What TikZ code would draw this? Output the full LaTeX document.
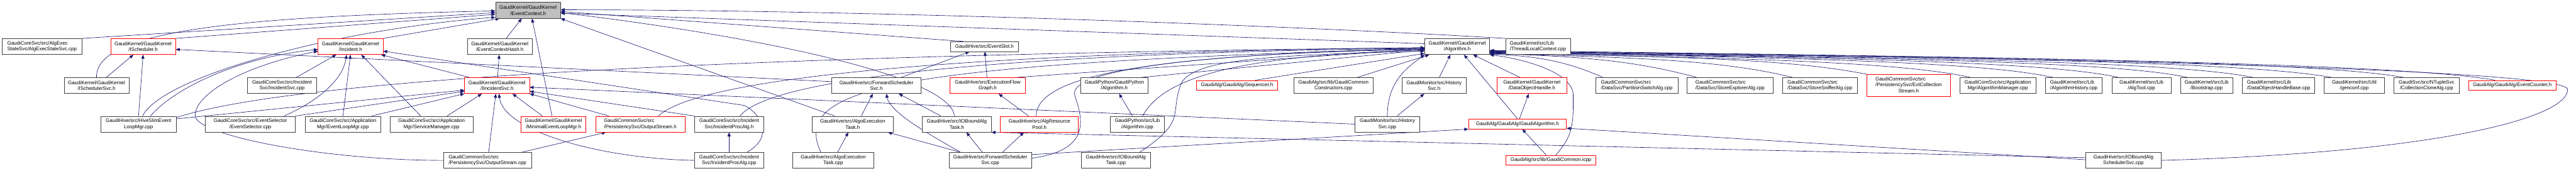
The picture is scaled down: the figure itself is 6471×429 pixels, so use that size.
\documentclass[tikz,border=0pt]{standalone}
\usepackage{fontspec}
\setmainfont{Liberation Sans}
\usetikzlibrary{arrows.meta,calc,backgrounds}
\definecolor{edgecol}{HTML}{191970}
\definecolor{nodeb}{HTML}{404040}
\definecolor{rootf}{HTML}{BFBFBF}
\newcommand{\gfs}{\fontsize{12.6}{15}\selectfont}
\begin{document}
\begin{tikzpicture}[x=1pt,y=-1pt,
 nb/.style={draw=nodeb, fill=white, line width=1pt, minimum height=40pt, inner sep=0pt, align=center, font=\gfs},
 nl/.style={nb, align=left},
 nr/.style={nb, draw=red},
 nrl/.style={nr, align=left},
 one/.style={minimum height=25pt},
 root/.style={nb, fill=rootf},
 dep/.style={edgecol, line width=1pt, -{Triangle[length=10pt,width=8pt]}},
]
\useasboundingbox (0,0) rectangle (6471,429);
% nodes
\node[nl, minimum width=201pt] (AES) at (105.5,117) {GaudiCoreSvc/src/AlgExec\\StateSvc/AlgExecStateSvc.cpp};
\node[nr, minimum width=163pt] (ISch) at (359.5,117) {GaudiKernel/GaudiKernel\\/IScheduler.h};
\node[nb, minimum width=163pt] (ISS) at (242.5,215) {GaudiKernel/GaudiKernel\\/ISchedulerSvc.h};
\node[nb, minimum width=190pt] (HSE) at (348,312) {GaudiHive/src/HiveSlimEvent\\LoopMgr.cpp};
\node[nr, minimum width=163pt] (Inc) at (880.5,117) {GaudiKernel/GaudiKernel\\/Incident.h};
\node[nb, minimum width=173pt] (ISC) at (708.5,215) {GaudiCoreSvc/src/Incident\\Svc/IncidentSvc.cpp};
\node[nb, minimum width=226pt] (ESel) at (629,312) {GaudiCoreSvc/src/EventSelector\\/EventSelector.cpp};
\node[nb, minimum width=191pt] (ELM) at (861.5,312) {GaudiCoreSvc/src/Application\\Mgr/EventLoopMgr.cpp};
\node[nb, minimum width=208pt] (SM) at (1084,312) {GaudiCoreSvc/src/Application\\Mgr/ServiceManager.cpp};
\node[root, minimum width=163pt] (EC) at (1326.5,26) {GaudiKernel/GaudiKernel\\/EventContext.h};
\node[nb, minimum width=163pt] (ECH) at (1255.5,117) {GaudiKernel/GaudiKernel\\/EventContextHash.h};
\node[nr, minimum width=163pt] (IIS) at (1248.5,215) {GaudiKernel/GaudiKernel\\/IIncidentSvc.h};
\node[nr, minimum width=163pt] (MEL) at (1390.5,312) {GaudiKernel/GaudiKernel\\/MinimalEventLoopMgr.h};
\node[nrl, minimum width=225pt] (OSh) at (1608.5,312) {GaudiCommonSvc/src\\/PersistencySvc/OutputStream.h};
\node[nl, minimum width=221pt] (OSc) at (1224.5,403) {GaudiCommonSvc/src\\/PersistencySvc/OutputStream.cpp};
\node[nb, minimum width=173pt] (IPAh) at (1831.5,312) {GaudiCoreSvc/src/Incident\\Svc/IncidentProcAlg.h};
\node[nb, minimum width=173pt] (IPAc) at (1831.5,403) {GaudiCoreSvc/src/Incident\\Svc/IncidentProcAlg.cpp};
\node[nb, minimum width=225pt] (FSH) at (2201.5,215) {GaudiHive/src/ForwardScheduler\\Svc.h};
\node[nb, minimum width=204pt] (AETh) at (2142,312) {GaudiHive/src/AlgoExecution\\Task.h};
\node[nb, minimum width=204pt] (AETc) at (2093,403) {GaudiHive/src/AlgoExecution\\Task.cpp};
\node[nb, one, minimum width=172pt] (ES) at (2473,117) {GaudiHive/src/EventSlot.h};
\node[nr, minimum width=189pt] (EFG) at (2481,215) {GaudiHive/src/ExecutionFlow\\Graph.h};
\node[nb, minimum width=173pt] (IOTh) at (2403.5,312) {GaudiHive/src/IOBoundAlg\\Task.h};
\node[nr, minimum width=196pt] (ARP) at (2611,312) {GaudiHive/src/AlgResource\\Pool.h};
\node[nb, minimum width=207pt] (FSc) at (2487.5,403) {GaudiHive/src/ForwardScheduler\\Svc.cpp};
\node[nb, minimum width=170pt] (GPAh) at (2799,215) {GaudiPython/GaudiPython\\/Algorithm.h};
\node[nr, one, minimum width=203pt] (Seq) at (3107.5,214.5) {GaudiAlg/GaudiAlg/Sequencer.h};
\node[nb, minimum width=136pt] (GPAc) at (2857,312) {GaudiPython/src/Lib\\/Algorithm.cpp};
\node[nb, minimum width=174pt] (IOTc) at (2803,403) {GaudiHive/src/IOBoundAlg\\Task.cpp};
\node[nb, minimum width=163pt] (Alg) at (3660.5,117) {GaudiKernel/GaudiKernel\\/Algorithm.h};
\node[nb, minimum width=199pt] (GCC) at (3349.5,215) {GaudiAlg/src/lib/GaudiCommon\\Constructors.cpp};
\node[nb, minimum width=161pt] (HSh) at (3602.5,215) {GaudiMonitor/src/History\\Svc.h};
\node[nb, minimum width=162pt] (HSc) at (3485,312) {GaudiMonitor/src/History\\Svc.cpp};
\node[nr, one, minimum width=246pt] (GAh) at (3812,311.5) {GaudiAlg/GaudiAlg/GaudiAlgorithm.h};
\node[nr, minimum width=176pt] (DOH) at (3848,215) {GaudiKernel/GaudiKernel\\/DataObjectHandle.h};
\node[nl, minimum width=163pt] (TLC) at (3863.5,117) {GaudiKernel/src/Lib\\/ThreadLocalContext.cpp};
\node[nr, one, minimum width=226pt] (GCi) at (3896,402.5) {GaudiAlg/src/lib/GaudiCommon.icpp};
\node[nl, minimum width=207pt] (PSA) at (4111.5,215) {GaudiCommonSvc/src\\/DataSvc/PartitionSwitchAlg.cpp};
\node[nl, minimum width=216pt] (SEA) at (4346,215) {GaudiCommonSvc/src\\/DataSvc/StoreExplorerAlg.cpp};
\node[nl, minimum width=189pt] (SSA) at (4571.5,215) {GaudiCommonSvc/src\\/DataSvc/StoreSnifferAlg.cpp};
\node[nr, minimum width=211pt, minimum height=55pt] (ECS) at (4794.5,214.5) {\begin{tabular}{@{}l@{}}GaudiCommonSvc/src\\/PersistencySvc/EvtCollection\\\multicolumn{1}{@{}c@{}}{Stream.h}\end{tabular}};
\node[nb, minimum width=191pt] (AM) at (5018.5,215) {GaudiCoreSvc/src/Application\\Mgr/AlgorithmManager.cpp};
\node[nl, minimum width=143pt] (AH) at (5209.5,215) {GaudiKernel/src/Lib\\/AlgorithmHistory.cpp};
\node[nb, minimum width=149pt] (AT) at (5379.5,215) {GaudiKernel/src/Lib\\/AlgTool.cpp};
\node[nb, minimum width=190pt] (IOSS) at (5334,403) {GaudiHive/src/IOBoundAlg\\SchedulerSvc.cpp};
\node[nb, minimum width=132pt] (BS) at (5543,215) {GaudiKernel/src/Lib\\/Bootstrap.cpp};
\node[nl, minimum width=182pt] (DOHB) at (5724,215) {GaudiKernel/src/Lib\\/DataObjectHandleBase.cpp};
\node[nb, minimum width=152pt] (GC) at (5914,215) {GaudiKernel/src/Util\\/genconf.cpp};
\node[nb, minimum width=165pt] (CCA) at (6095.5,215) {GaudiSvc/src/NTupleSvc\\/CollectionCloneAlg.cpp};
\node[nr, one, minimum width=220pt] (ECnt) at (6311,214.5) {GaudiAlg/GaudiAlg/EventCounter.h};
% edges
\begin{scope}[on background layer]
\fill[white] (0,0) rectangle (6471,429);
% EventContext
\draw[dep] (AES.north east) -- (EC.184);
\draw[dep] (ISch.north east) -- (EC.187);
\draw[dep] (ISS.north) .. controls +(-3,-110) and +(-700,15) .. (EC.181);
\draw[dep] ($(HSE.north)+(10,0)$) .. controls +(50,-100) and +(-400,30) .. (EC.192);
\draw[dep] (Inc.north east) -- (EC.196);
\draw[dep] (ECH) -- (EC);
\draw[dep] ($(MEL.north)+(-4,0)$) -- ($(EC.south)+(10,0)$);
\draw[dep] ($(AETh.north)+(-45,0)$) -- (EC.south east);
\draw[dep] ($(ES.north west)+(33,0)$) -- (EC.358);
\draw[dep] ($(IOTh.north)+(-6,0)$) .. controls +(-10,-100) and +(500,60) .. (EC.356);
\draw[dep] (Alg.175) -- (EC.355);
\draw[dep] (TLC.north west) .. controls +(-500,-30) and +(800,0) .. (EC.1);
% IScheduler
\draw[dep] (ISS) -- (ISch);
\draw[dep] (HSE.north) -- (ISch.south);
\draw[dep] (FSH.175) -- (ISch.355);
% Incident
\draw[dep] (ISC) -- (Inc);
\draw[dep] ($(ESel.north east)+(-29,0)$) .. controls +(70,-30) and +(-10,70) .. ($(Inc.south)+(-10,0)$);
\draw[dep] (ELM.north) -- (Inc.south);
\draw[dep] ($(SM.north)+(-27,0)$) -- ($(Inc.south)+(27,0)$);
\draw[dep] ($(IIS.north west)+(13,0)$) -- ($(Inc.south east)+(-5,0)$);
\draw[dep] ($(IPAc.north)+(45,0)$) .. controls +(70,-40) and +(40,20) .. (1870,265) -- (Inc.352);
\draw[dep] ($(HSE.north)+(30,0)$) .. controls +(60,-70) and +(-200,20) .. (Inc.185);
\draw[dep] (OSc.west) .. controls +(-300,0) and +(0,50) .. (490,290) .. controls +(0,-50) and +(-200,40) .. (Inc.188);
% IIncidentSvc
\draw[dep] (HSE.8) -- (IIS.188);
\draw[dep] (ESel.north east) -- (IIS.190);
\draw[dep] ($(ELM.north east)+(-24,0)$) -- (IIS.south west);
\draw[dep] ($(SM.north)+(39,0)$) -- ($(IIS.south)+(-38,0)$);
\draw[dep] ($(OSc.north)+(3,0)$) -- ($(IIS.south)+(-3,0)$);
\draw[dep] (IPAc.west) .. controls +(-250,-5) and +(10,90) .. ($(IIS.south)+(5,0)$);
\draw[dep] ($(MEL.north)+(-28,0)$) -- ($(IIS.south)+(39,0)$);
\draw[dep] ($(OSh.north west)+(34,0)$) -- (IIS.south east);
\draw[dep] (HSc.west) -- (IIS.357);
\draw[dep] (IPAh.north west) -- (IIS.350);
\draw[dep] (IIS) -- (ECH);
% misc
\draw[dep] (OSc) -- (OSh);
\draw[dep] (IPAc) -- (IPAh);
\draw[dep] (AETc) -- (AETh);
\draw[dep] ($(FSc.north west)+(29,0)$) -- ($(AETh.south east)+(-14,0)$);
\draw[dep] ($(AETh.north east)+(-81,0)$) -- ($(FSH.south west)+(104,0)$);
\draw[dep] ($(FSc.north west)+(29,0)$) .. controls +(-60,-35) and +(10,50) .. ($(FSH.south)+(25,0)$);
\draw[dep] ($(IOTh.north)+(-40,0)$) -- ($(FSH.south east)+(-57,0)$);
\draw[dep] ($(FSH.north east)+(-51,0)$) -- ($(ES.south west)+(49,0)$);
\draw[dep] (EFG) -- (ES);
\draw[dep] (ARP) -- (EFG);
\draw[dep] ($(FSc.north)+(-20,0)$) -- ($(IOTh.south)+(24,0)$);
\draw[dep] (IOSS.176) -- (IOTh.south east);
\draw[dep] ($(FSc.north)+(31,0)$) -- ($(ARP.south)+(-39,0)$);
\draw[dep] (GPAc) -- (GPAh);
\draw[dep] (HSc) -- (HSh);
\draw[dep] (GAh) -- (DOH);
\draw[dep] (GCi) -- (GAh);
\draw[dep] (IOSS.179) -- (GAh.355);
\draw[dep] (FSc.8) -- (GAh.186);
% Algorithm (left)
\draw[dep] (HSE.10) .. controls +(400,-130) and +(-1000,10) .. (Alg.182);
\draw[dep] ($(OSh.north)+(45,0)$) .. controls +(120,-110) and +(-1000,10) .. (Alg.182);
\draw[dep] ($(IPAh.north)+(27,0)$) .. controls +(90,-110) and +(-900,10) .. (Alg.183);
\draw[dep] ($(AETc.north)+(-31,0)$) .. controls +(-80,-170) and +(-1300,40) .. (Alg.183);
\draw[dep] ($(EFG.north east)+(-23,0)$) -- (Alg.184);
\draw[dep] ($(ARP.north)+(-8,0)$) .. controls +(0,-100) and +(-700,15) .. (Alg.184);
\draw[dep] (FSc.3) .. controls +(150,-20) and +(20,60) .. (2700,240) .. controls +(-20,-60) and +(-600,10) .. (Alg.185);
\draw[dep] ($(GPAh.north east)+(-17,0)$) -- (Alg.186);
\draw[dep] ($(GPAc.north)+(13,0)$) .. controls +(50,-90) and +(-500,15) .. (Alg.186);
\draw[dep] ($(IOTc.north)+(60,0)$) .. controls +(120,-80) and +(-30,80) .. (2967,210) .. controls +(30,-60) and +(-400,10) .. (Alg.188);
\draw[dep] ($(Seq.north east)+(-56,0)$) -- (Alg.192);
\draw[dep] ($(GCC.north)+(60,0)$) -- ($(Alg.south west)+(12,0)$);
\draw[dep] (HSc.north) .. controls +(0,-90) and +(-40,30) .. (Alg.south west);
\draw[dep] ($(HSh.north)+(13,0)$) -- ($(Alg.south)+(-17,0)$);
\draw[dep] (GAh.north) -- ($(Alg.south)+(17,0)$);
\draw[dep] ($(DOH.north)+(-30,0)$) -- ($(Alg.south east)+(-42,0)$);
\draw[dep] ($(GCi.north)+(12,0)$) .. controls +(45,-50) and +(0,70) .. (3952,240) .. controls +(0,-60) and +(80,10) .. (Alg.south east);
% Algorithm (right)
\draw[dep] ($(PSA.north west)+(19,0)$) .. controls +(-90,-40) and +(120,5) .. (Alg.347);
\draw[dep] ($(SEA.north west)+(25,0)$) .. controls +(-150,-40) and +(250,8) .. (Alg.348);
\draw[dep] ($(SSA.north west)+(26,0)$) .. controls +(-180,-45) and +(350,10) .. (Alg.348);
\draw[dep] (ECS.north west) .. controls +(-200,-40) and +(450,10) .. (Alg.349);
\draw[dep] ($(AM.north west)+(27,0)$) .. controls +(-200,-45) and +(500,12) .. (Alg.349);
\draw[dep] ($(AH.north west)+(19,0)$) .. controls +(-200,-45) and +(600,12) .. (Alg.350);
\draw[dep] ($(AT.north west)+(17,0)$) .. controls +(-200,-45) and +(700,12) .. (Alg.350);
\draw[dep] ($(BS.north west)+(18,0)$) .. controls +(-200,-45) and +(800,14) .. (Alg.351);
\draw[dep] ($(DOHB.north west)+(27,0)$) .. controls +(-220,-45) and +(900,14) .. (Alg.351);
\draw[dep] ($(GC.north west)+(19,0)$) .. controls +(-250,-45) and +(1000,15) .. (Alg.352);
\draw[dep] ($(CCA.north west)+(25,0)$) .. controls +(-250,-45) and +(1100,15) .. (Alg.352);
\draw[dep] ($(ECnt.north west)+(67,0)$) .. controls +(-250,-45) and +(1200,15) .. (Alg.353);
\draw[dep] (IOSS.east) .. controls +(700,-20) and +(0,70) .. (6450,225) .. controls +(0,-50) and +(1500,20) .. (Alg.353);
\end{scope}
\end{tikzpicture}
\end{document}
